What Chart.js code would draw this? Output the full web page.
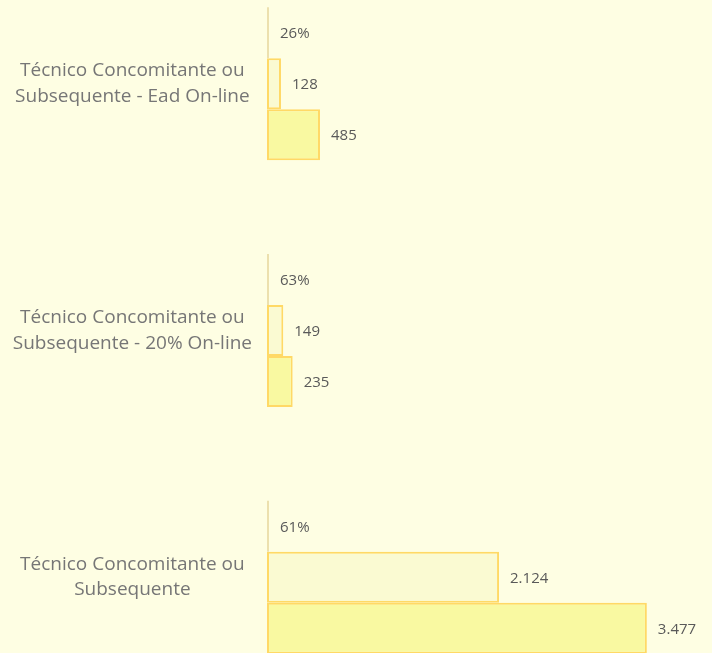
<!DOCTYPE html>
<html>
<head>
<meta charset="utf-8">
<script src="https://cdn.jsdelivr.net/npm/chart.js@4.4.1/dist/chart.umd.min.js"></script>
<style>
    html, body { margin: 0; padding: 0; background: #FEFEE3; }
    #wrap { position: relative; width: 712px; height: 653px; overflow: hidden; background: #FEFEE3; }
    #chart { position: absolute; left: 0; top: -80px; }
</style>
</head>
<body>
<div id="wrap">
    <canvas id="chart" width="712" height="821"></canvas>
</div>
<script>
// categories (top to bottom, as drawn)
const categories = [
    ['Técnico Concomitante ou', 'Subsequente - Ead On-line'],
    ['Técnico Concomitante ou', 'Subsequente - 20% On-line'],
    ['Técnico Concomitante ou', 'Subsequente']
];

// series values
const percentValues = [0.26, 0.63, 0.61];
const middleValues = [128, 149, 2124];
const totalValues = [485, 235, 3477];

const xMax = 4000;

// number format with "." as thousands separator
function fmt(v) {
    return String(v).replace(/\B(?=(\d{3})+(?!\d))/g, '.');
}

// draw value labels at the end of each bar
const valueLabels = {
    id: 'valueLabels',
    afterDatasetsDraw(chart) {
        const ctx = chart.ctx;
        ctx.save();
        ctx.font = '15px "Open Sans"';
        ctx.fillStyle = '#595959';
        ctx.textAlign = 'left';
        ctx.textBaseline = 'middle';
        chart.data.datasets.forEach((ds, i) => {
            const meta = chart.getDatasetMeta(i);
            meta.data.forEach((bar, j) => {
                const v = ds.data[j];
                const text = ds.isPercent ? Math.round(v * 100) + '%' : fmt(v);
                ctx.fillText(text, bar.x + 11, bar.y + 1);
            });
        });
        ctx.restore();
    }
};

new Chart(document.getElementById('chart').getContext('2d'), {
    type: 'bar',
    data: {
        labels: categories,
        datasets: [
            {
                label: '%',
                isPercent: true,
                data: percentValues,
                backgroundColor: '#ECE0AE',
                borderWidth: 0,
                minBarLength: 2
            },
            {
                label: 'middle',
                data: middleValues,
                backgroundColor: '#FAFAD2',
                borderColor: '#FFD966',
                borderWidth: 2,
                borderSkipped: false
            },
            {
                label: 'total',
                data: totalValues,
                backgroundColor: '#F9F9A1',
                borderColor: '#FFD966',
                borderWidth: 2,
                borderSkipped: false
            }
        ]
    },
    options: {
        indexAxis: 'y',
        responsive: false,
        animation: false,
        categoryPercentage: 0.62,
        barPercentage: 1.0,
        layout: { padding: { left: 0, right: 8, top: 0, bottom: 0 } },
        plugins: {
            legend: { display: false },
            tooltip: { enabled: false }
        },
        scales: {
            x: {
                display: false,
                min: 0,
                max: xMax
            },
            y: {
                grid: { display: false, drawTicks: false },
                border: { display: false },
                ticks: {
                    crossAlign: 'center',
                    padding: 15,
                    color: '#767676',
                    font: { family: '"Open Sans"', size: 19, lineHeight: 1.33 }
                },
                afterFit(scale) {
                    scale.width = 267;
                }
            }
        }
    },
    plugins: [valueLabels]
});
</script>
</body>
</html>
